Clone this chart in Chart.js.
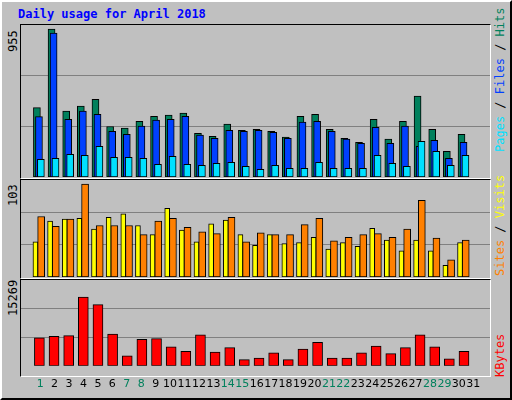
<!DOCTYPE html>
<html><head><meta charset="utf-8">
<script src="https://cdn.jsdelivr.net/npm/chart.js@4/dist/chart.umd.min.js"></script>
<style>
body{margin:0;background:#fff}
#frame{position:absolute;left:0;top:0;width:508px;height:396px;background:#c0c0c0;border:2px solid;border-color:#fff #000 #000 #fff;box-sizing:content-box}
.panel{position:absolute;left:20px;width:471px;border:1px solid;border-color:#000 #fff #fff #000;box-sizing:border-box}
canvas{position:absolute}
.t{position:absolute;font-family:"DejaVu Sans Mono",monospace;font-size:12px;white-space:nowrap}
.rot{transform-origin:0 0;transform:rotate(-90deg)}
</style></head><body>
<div id="frame"></div>
<div class="t" style="left:18px;top:7px;color:#0000ff;font-weight:bold">Daily usage for April 2018</div>
<div class="panel" style="top:24px;height:155px"></div>
<div class="panel" style="top:179px;height:100px"></div>
<div class="panel" style="top:279px;height:98px"></div>
<canvas id="c1" width="469" height="152" style="left:21px;top:25px"></canvas>
<canvas id="c2" width="469" height="97" style="left:21px;top:180px"></canvas>
<canvas id="c3" width="469" height="115" style="left:21px;top:280px"></canvas>
<div class="t rot" style="left:6px;top:52px">955</div>
<div class="t rot" style="left:6px;top:206px">103</div>
<div class="t rot" style="left:6px;top:316px">15269</div>
<div class="t rot" style="left:493px;top:152px"><span style="color:#00e0ff">Pages</span> / <span style="color:#0040ff">Files</span> / <span style="color:#00805c">Hits</span></div>
<div class="t rot" style="left:493px;top:276px"><span style="color:#ff8000">Sites</span> / <span style="color:#ffff00">Visits</span></div>
<div class="t rot" style="left:493px;top:377px"><span style="color:#ff0000">KBytes</span></div>
<script>
const days = Array.from({length: 31}, (_, i) => String(i + 1));
const weekend = [1, 7, 8, 14, 15, 21, 22, 28, 29];
const hits = [448,955,425,457,502,326,315,360,392,399,412,282,263,341,302,308,295,257,392,405,308,250,224,373,244,360,522,308,166,276];
const files = [390,929,373,425,405,295,276,328,367,373,392,270,250,302,295,302,289,250,354,360,295,244,218,321,218,328,198,237,121,224];
const pages = [114,121,147,140,198,127,127,121,82,134,82,75,88,95,69,50,75,56,56,95,56,56,56,140,88,69,231,166,75,140];
const visits = [39,62,64,65,53,66,70,57,47,76,52,39,59,63,47,35,47,37,38,44,31,38,34,54,41,29,41,29,13,38];
const sites = [67,56,64,103,57,57,57,47,62,65,55,50,48,66,39,49,47,47,58,65,40,44,47,48,44,53,85,43,19,41];
const kbytes = [6218,6551,6718,15269,13603,7051,2221,5885,6052,4220,3220,6884,3054,4053,1388,1721,2887,1388,3720,5219,1721,1721,2887,4386,2720,4053,6884,4220,1555,3220];

function pts(arr, off) { return arr.map((v, i) => ({x: i + 1 + off, y: v})); }
function ds(arr, off, color, w) {
  return {data: pts(arr, off), backgroundColor: color, borderColor: "#000", borderWidth: 1, barThickness: w, grouped: false, borderSkipped: false};
}
function makeChart(id, datasets, max, showX) {
  new Chart(document.getElementById(id), {
    type: "bar",
    data: {datasets},
    options: {
      responsive: false, animation: false, devicePixelRatio: 1,
      layout: {padding: 0},
      plugins: {legend: {display: false}, tooltip: {enabled: false}},
      scales: {
        x: {
          type: "linear", min: 0, max: 31, display: showX,
          grid: {display: false}, border: {display: false},
          afterBuildTicks: (ax) => { ax.ticks = days.map((d, i) => ({value: (33 + 14.92 * i - 21) / 15.13})); },
          ticks: {
            autoSkip: false, maxRotation: 0, padding: 4,
            font: {family: "DejaVu Sans", size: 11},
            color: (c) => weekend.includes(c.index + 1) ? "#00805c" : "#000",
            callback: (v, i) => days[i],
          },
        },
        y: {
          min: 0, max: max, display: true,
          afterBuildTicks: (ax) => { ax.ticks = [{value: max / 3}, {value: 2 * max / 3}]; },
          ticks: {display: false}, border: {display: false},
          grid: {color: "#808080", lineWidth: 1, drawTicks: false},
        },
      },
    },
  });
}
makeChart("c1", [
  ds(pages, -0.16, "#00e0ff", 7),
  ds(files, -0.29, "#0040ff", 7),
  ds(hits, -0.43, "#00805c", 7),
], 981, false);
makeChart("c2", [
  ds(sites, -0.14, "#ff8000", 7),
  ds(visits, -0.53, "#ffff00", 5),
], 107.4, false);
makeChart("c3", [ds(kbytes, -0.26, "#ff0000", 10)], 15769 * 115 / 95, true);
</script>
</body></html>
